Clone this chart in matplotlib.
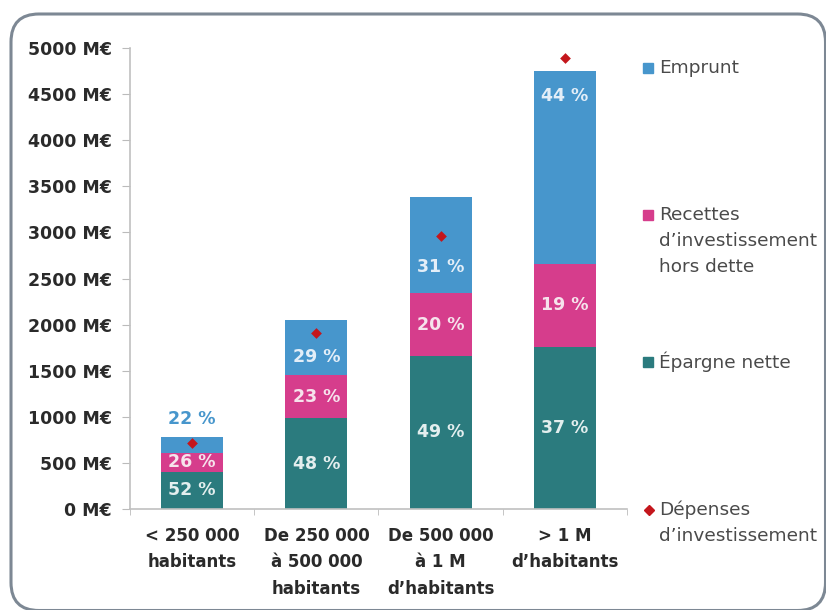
import matplotlib
matplotlib.use("Agg")
import matplotlib.pyplot as plt
from matplotlib.patches import FancyBboxPatch, Rectangle
from matplotlib.lines import Line2D
import numpy as np

plt.rcParams['font.family'] = ['DejaVu Sans']

categories = ["< 250 000\nhabitants", "De 250 000\nà 500 000\nhabitants",
              "De 500 000\nà 1 M\nd\u2019habitants", "> 1 M\nd\u2019habitants"]
epargne = [406, 984, 1660, 1760]
recettes = [203, 470, 680, 900]
emprunt = [172, 596, 1049, 2090]
depenses = [716, 1910, 2960, 4890]
pct_epargne = ["52 %", "48 %", "49 %", "37 %"]
pct_recettes = ["26 %", "23 %", "20 %", "19 %"]
pct_emprunt = ["22 %", "29 %", "31 %", "44 %"]
yticks = [0, 500, 1000, 1500, 2000, 2500, 3000, 3500, 4000, 4500, 5000]

c_ep = "#2b7b7e"
c_re = "#d63d8c"
c_em = "#4796cc"
c_dep = "#c4161c"

W, H = 826, 610
fig = plt.figure(figsize=(W / 100, H / 100), dpi=100)

# rounded frame (inches)
frame = FancyBboxPatch((0.11, -0.005), 8.145, 5.965,
                       boxstyle="round,pad=0,rounding_size=0.28",
                       transform=fig.dpi_scale_trans, fill=False,
                       edgecolor="#7d8894", linewidth=2.2, zorder=0)
fig.patches.append(frame)

ax = fig.add_axes([130 / W, 1 - 509 / H, (627 - 130) / W, (509 - 48) / H])
x = np.arange(len(categories))
w = 0.5
ep = np.array(epargne)
re = np.array(recettes)
em = np.array(emprunt)

ax.bar(x, ep, w, color=c_ep, zorder=2)
ax.bar(x, re, w, bottom=ep, color=c_re, zorder=2)
ax.bar(x, em, w, bottom=ep + re, color=c_em, zorder=2)
ax.scatter(x, depenses, marker="D", s=30, color=c_dep, zorder=4, linewidths=0)

ax.set_xlim(-0.5, 3.5)
ax.set_ylim(0, 5000)
ax.set_yticks(yticks)
ax.set_yticklabels([f"{v} M\u20ac" for v in yticks], fontsize=12.5,
                   fontweight="bold", color="#2a2a2a")
ax.set_xticks(x)
ax.set_xticklabels(categories, fontsize=12, fontweight="bold", color="#2a2a2a",
                   linespacing=1.6)
ax.tick_params(axis="x", length=0, pad=13)
ax.set_xticks(np.arange(-0.5, 4, 1), minor=True)
ax.tick_params(axis="x", which="minor", length=4, color="#bbbbbb")
ax.tick_params(axis="y", length=6, color="#bbbbbb", pad=7)
for s in ["top", "right"]:
    ax.spines[s].set_visible(False)
ax.spines["left"].set_color("#c0c0c0")
ax.spines["bottom"].set_color("#c0c0c0")
ax.spines["left"].set_linewidth(1.2)
ax.spines["bottom"].set_linewidth(1.2)

lab_kw = dict(ha="center", va="center", fontsize=12.5, fontweight="bold")
for i in range(len(x)):
    ax.text(x[i], ep[i] / 2, pct_epargne[i], color="#e3eeee", **lab_kw)
    ax.text(x[i], ep[i] + re[i] / 2, pct_recettes[i], color="#f6e3ec", **lab_kw)

# emprunt label placements (fraction within the emprunt segment; first one above bar)
em_frac = [None, 0.33, 0.27, 0.87]
for i in range(len(x)):
    base = ep[i] + re[i]
    if em_frac[i] is None:
        ax.text(x[i], base + em[i] + 190, pct_emprunt[i], color=c_em, **lab_kw)
    else:
        ax.text(x[i], base + em[i] * em_frac[i], pct_emprunt[i], color="#e3eef8", **lab_kw)

# legend (manual)
def sq(ypix, color):
    fig.patches.append(Rectangle((643 / W, 1 - (ypix + 5) / H), 10 / W, 10 / H,
                                 transform=fig.transFigure, color=color))

tkw = dict(fontsize=13.3, color="#4a4a4a", va="center", ha="left", transform=fig.transFigure)
sq(68, c_em)
fig.text(659 / W, 1 - 68 / H, "Emprunt", **tkw)
sq(215, c_re)
fig.text(659 / W, 1 - 215 / H, "Recettes", **tkw)
fig.text(659 / W, 1 - 241 / H, "d\u2019investissement", **tkw)
fig.text(659 / W, 1 - 267 / H, "hors dette", **tkw)
sq(362, c_ep)
fig.text(659 / W, 1 - 362 / H, "\u00c9pargne nette", **tkw)
fig.lines.append(Line2D([649 / W], [1 - 510 / H], marker="D", markersize=5,
                        color=c_dep, linestyle="none", transform=fig.transFigure))
fig.text(659 / W, 1 - 510 / H, "D\u00e9penses", **tkw)
fig.text(659 / W, 1 - 536 / H, "d\u2019investissement", **tkw)

fig.savefig("out.png", dpi=100)
